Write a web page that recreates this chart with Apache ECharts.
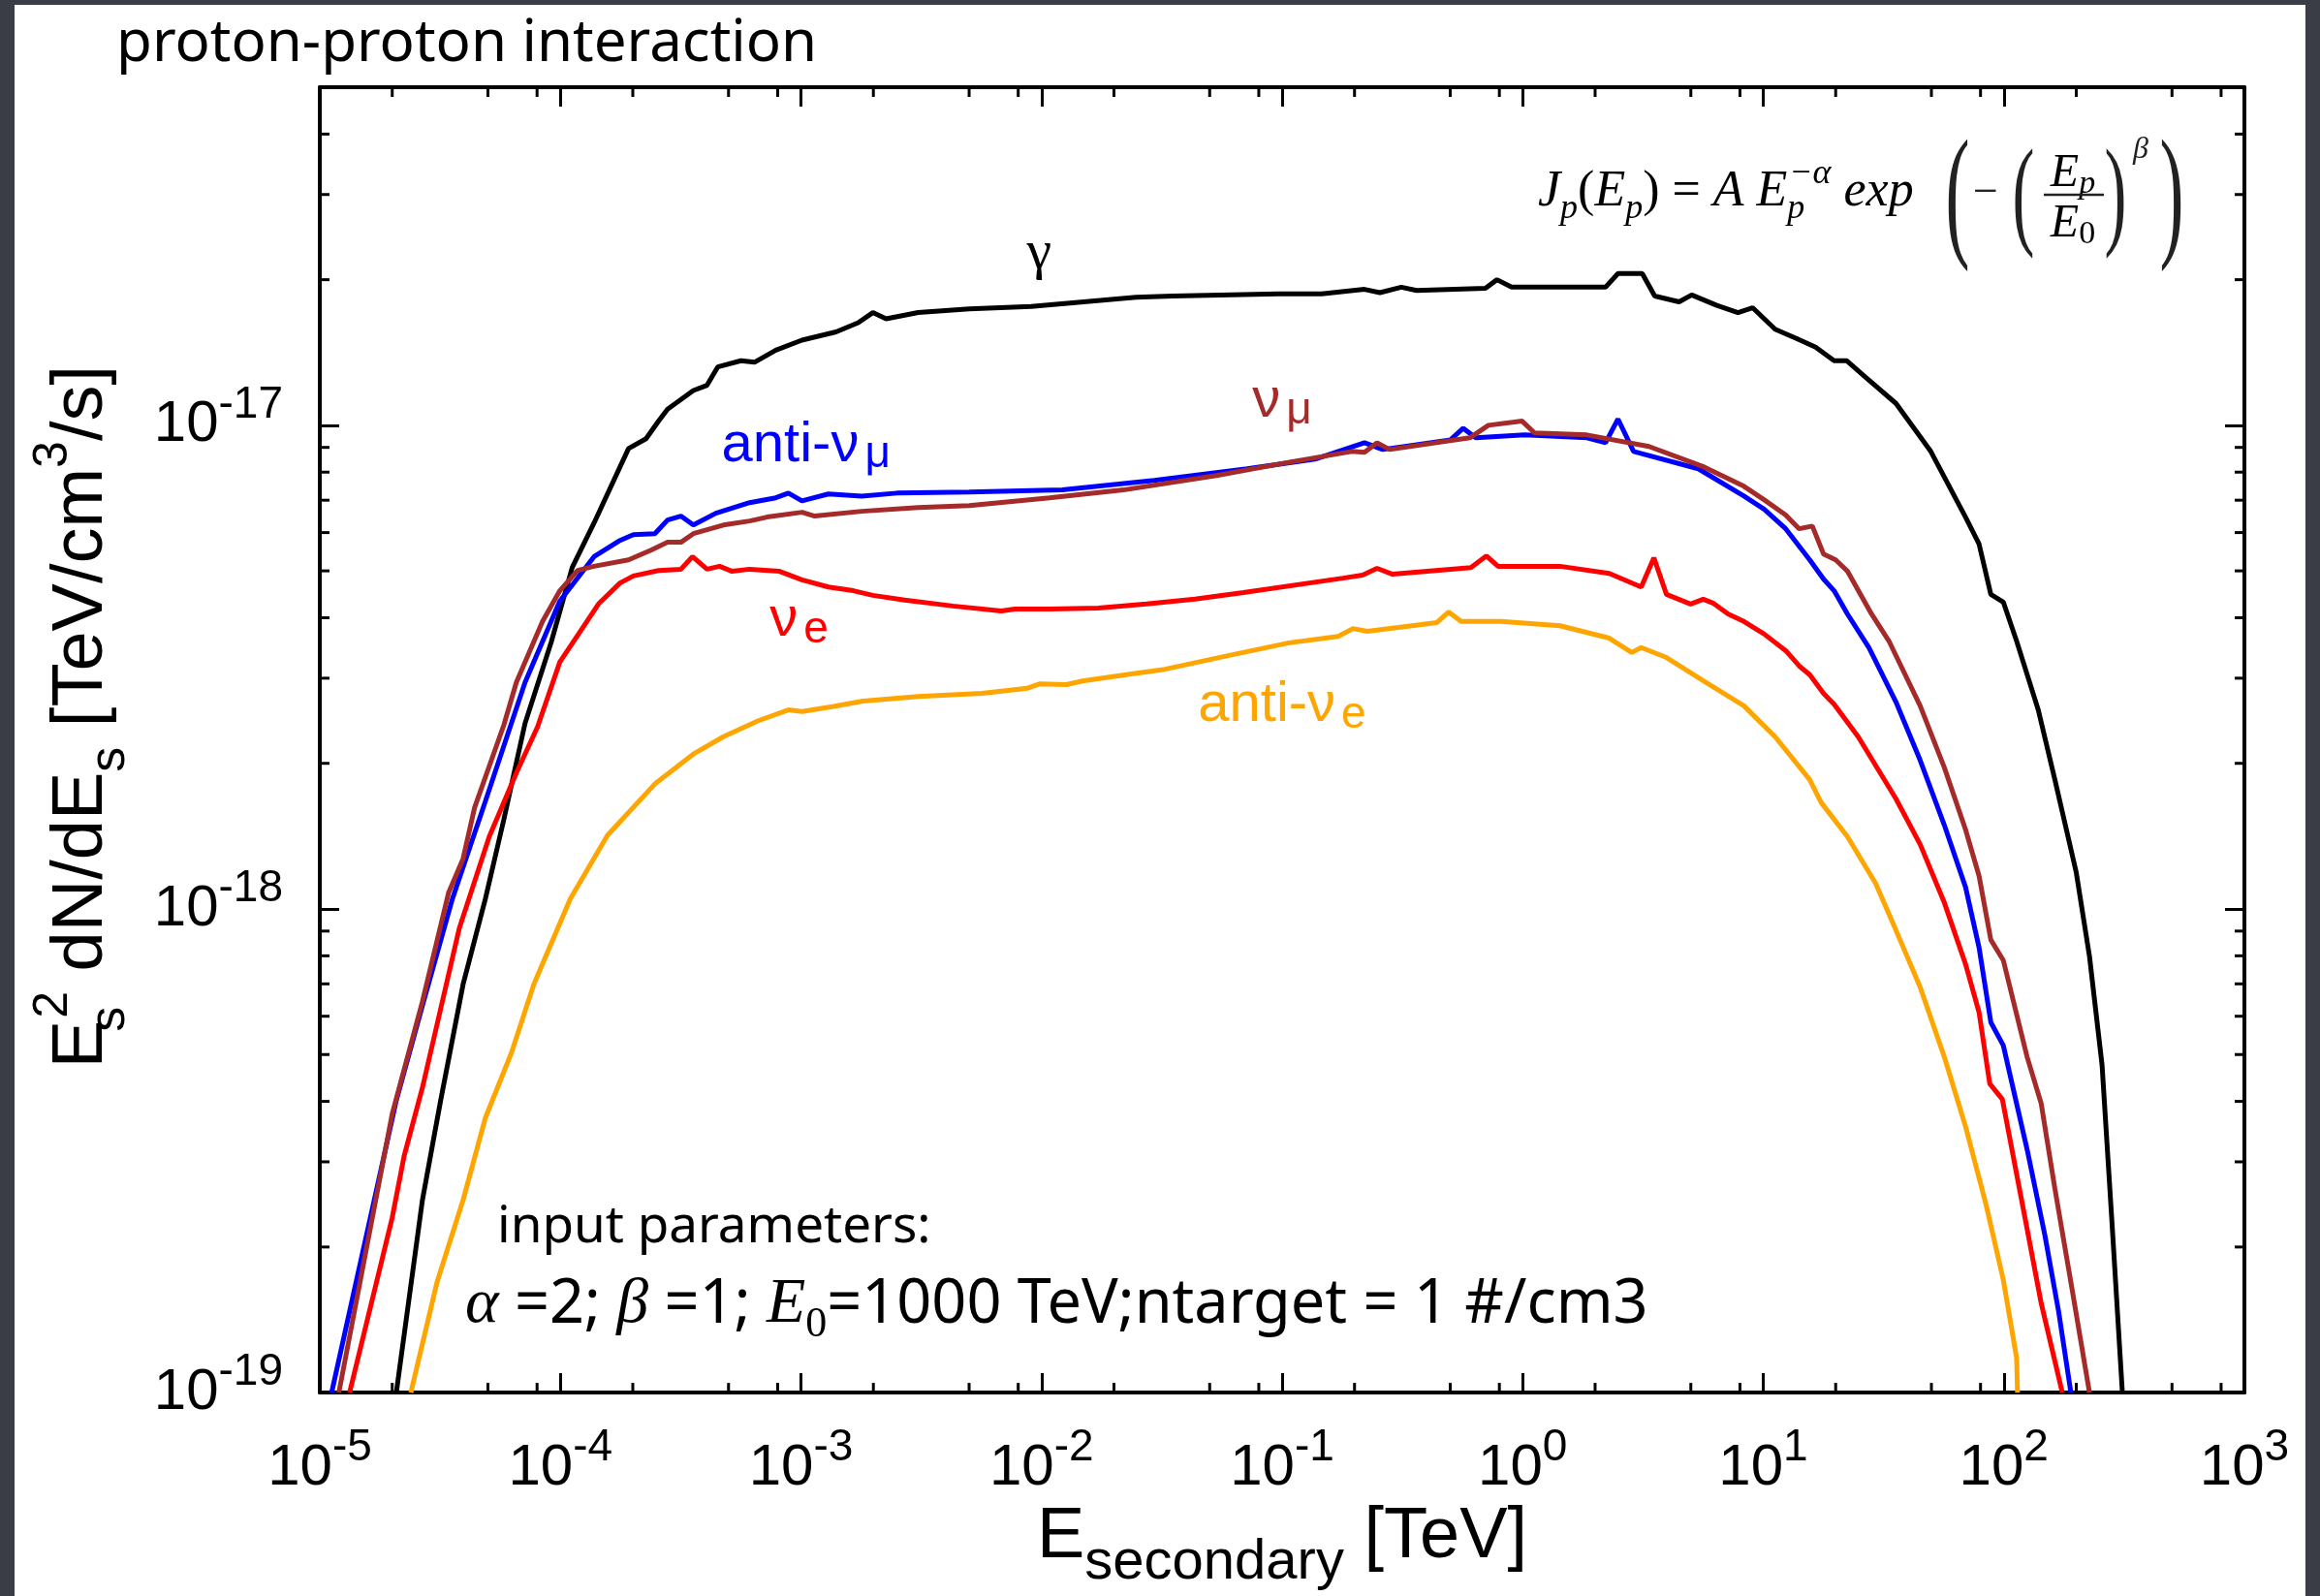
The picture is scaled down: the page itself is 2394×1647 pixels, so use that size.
<!DOCTYPE html>
<html>
<head>
<meta charset="utf-8">
<title>proton-proton interaction</title>
<script src="https://cdn.jsdelivr.net/npm/echarts@6.0.0/dist/echarts.min.js"></script>
<style>
  html, body { margin: 0; padding: 0; background: #3a3d46; }
  body { width: 2394px; height: 1647px; position: relative; overflow: hidden; }
  #chart { position: absolute; left: 15px; top: 5px; width: 2364px; height: 1642px; background: #fff; }
</style>
</head>
<body>
<div id="chart"></div>
<script>
// energies in TeV, E^2 dN/dE in TeV/cm3/s
const gammaE = [2.08e-5, 2.67e-5, 3.18e-5, 3.94e-5, 4.88e-5, 5.82e-5, 7.13e-5, 9.16e-5, 1.12e-4, 1.38e-4,
  1.92e-4, 2.27e-4, 2.56e-4, 2.79e-4, 3.57e-4, 4.07e-4, 4.51e-4, 5.63e-4, 6.41e-4, 7.86e-4,
  1.01e-3, 1.40e-3, 1.73e-3, 1.99e-3, 2.26e-3, 3.07e-3, 5.01e-3, 9.07e-3, 2.47e-2, 3.51e-2,
  9.64e-2, 0.146, 0.220, 0.255, 0.313, 0.362, 0.700, 0.782, 0.899, 2.21,
  2.49, 3.14, 3.54, 4.47, 5.04, 6.41, 7.85, 9.03, 11.2, 13.8,
  16.5, 19.7, 22.2, 26.5, 35.6, 49.7, 60.4, 69.3, 78.9, 88.3,
  99.5, 113, 139, 163, 200, 227, 256, 281, 311];
const gammaV = [1.00e-19, 2.50e-19, 4.02e-19, 6.98e-19, 1.05e-18, 1.53e-18, 2.42e-18, 3.56e-18, 5.08e-18, 6.28e-18,
  8.95e-18, 9.38e-18, 1.02e-17, 1.08e-17, 1.18e-17, 1.21e-17, 1.32e-17, 1.36e-17, 1.35e-17, 1.43e-17,
  1.50e-17, 1.56e-17, 1.63e-17, 1.71e-17, 1.66e-17, 1.71e-17, 1.74e-17, 1.76e-17, 1.84e-17, 1.85e-17,
  1.87e-17, 1.87e-17, 1.91e-17, 1.88e-17, 1.93e-17, 1.90e-17, 1.92e-17, 2.00e-17, 1.93e-17, 1.93e-17,
  2.06e-17, 2.06e-17, 1.85e-17, 1.80e-17, 1.86e-17, 1.77e-17, 1.71e-17, 1.75e-17, 1.58e-17, 1.51e-17,
  1.45e-17, 1.36e-17, 1.36e-17, 1.26e-17, 1.11e-17, 8.83e-18, 7.35e-18, 6.46e-18, 5.68e-18, 4.47e-18,
  4.31e-18, 3.58e-18, 2.58e-18, 1.85e-18, 1.19e-18, 7.98e-19, 4.76e-19, 2.28e-19, 1.00e-19];

const antiNuMuE = [1.12e-5, 2.08e-5, 2.67e-5, 3.56e-5, 4.88e-5, 7.13e-5, 9.95e-5, 1.38e-4, 1.77e-4, 2.01e-4,
  2.47e-4, 2.79e-4, 3.17e-4, 3.57e-4, 4.43e-4, 6.12e-4, 7.86e-4, 8.87e-4, 1.01e-3, 1.30e-3,
  1.79e-3, 2.50e-3, 5.01e-3, 1.22e-2, 2.94e-2, 7.16e-2, 0.137, 0.220, 0.262, 0.501,
  0.566, 0.638, 1.02, 1.85, 2.21, 2.49, 2.89, 5.37, 8.31, 10.1,
  12.4, 15.6, 17.8, 19.7, 22.4, 27.5, 35.6, 44.9, 56.6, 69.3,
  78.9, 88.3, 99.5, 125, 148, 169, 190];
const antiNuMuV = [1.00e-19, 4.02e-19, 6.31e-19, 1.05e-18, 1.67e-18, 2.94e-18, 4.33e-18, 5.35e-18, 5.78e-18, 5.94e-18,
  5.97e-18, 6.37e-18, 6.49e-18, 6.22e-18, 6.58e-18, 6.92e-18, 7.08e-18, 7.24e-18, 6.98e-18, 7.21e-18,
  7.14e-18, 7.24e-18, 7.28e-18, 7.35e-18, 7.69e-18, 8.13e-18, 8.51e-18, 9.20e-18, 8.91e-18, 9.33e-18,
  9.86e-18, 9.42e-18, 9.55e-18, 9.42e-18, 9.20e-18, 1.03e-17, 8.83e-18, 8.13e-18, 7.14e-18, 6.70e-18,
  6.11e-18, 5.27e-18, 4.81e-18, 4.55e-18, 4.07e-18, 3.47e-18, 2.68e-18, 2.03e-18, 1.49e-18, 1.11e-18,
  8.32e-19, 5.83e-19, 5.22e-19, 3.18e-19, 2.12e-19, 1.47e-19, 1.00e-19];

const nuMuE = [1.20e-5, 2.00e-5, 2.67e-5, 3.43e-5, 3.94e-5, 4.40e-5, 5.82e-5, 6.56e-5, 8.43e-5, 9.95e-5,
  1.18e-4, 1.38e-4, 1.92e-4, 2.38e-4, 2.79e-4, 3.17e-4, 3.57e-4, 4.76e-4, 6.12e-4, 7.23e-4,
  1.01e-3, 1.14e-3, 1.79e-3, 3.07e-3, 5.01e-3, 1.08e-2, 2.19e-2, 5.33e-2, 0.109, 0.195,
  0.220, 0.248, 0.280, 0.603, 0.720, 0.995, 1.12, 1.85, 3.35, 5.68,
  8.31, 10.1, 12.4, 14.1, 16.0, 17.8, 20.0, 22.4, 28.2, 33.3,
  44.9, 56.6, 69.3, 78.9, 88.3, 99.5, 125, 143, 163, 192, 227];
const nuMuV = [1.00e-19, 3.77e-19, 6.43e-19, 1.08e-18, 1.27e-18, 1.62e-18, 2.40e-18, 2.94e-18, 3.93e-18, 4.55e-18,
  5.01e-18, 5.11e-18, 5.27e-18, 5.52e-18, 5.73e-18, 5.73e-18, 5.97e-18, 6.22e-18, 6.34e-18, 6.46e-18,
  6.61e-18, 6.49e-18, 6.64e-18, 6.76e-18, 6.82e-18, 7.08e-18, 7.35e-18, 7.87e-18, 8.40e-18, 8.83e-18,
  8.79e-18, 9.20e-18, 8.91e-18, 9.42e-18, 1.00e-17, 1.02e-17, 9.64e-18, 9.55e-18, 9.04e-18, 8.20e-18,
  7.48e-18, 7.01e-18, 6.52e-18, 6.11e-18, 6.19e-18, 5.42e-18, 5.27e-18, 4.99e-18, 4.07e-18, 3.58e-18,
  2.63e-18, 1.96e-18, 1.46e-18, 1.17e-18, 8.63e-19, 7.83e-19, 4.94e-19, 3.96e-19, 2.64e-19, 1.64e-19, 1.00e-19];

const nuEE = [1.33e-5, 2.00e-5, 2.24e-5, 2.67e-5, 3.80e-5, 5.06e-5, 6.56e-5, 8.04e-5, 9.95e-5, 1.18e-4,
  1.44e-4, 1.77e-4, 2.01e-4, 2.56e-4, 3.17e-4, 3.54e-4, 4.07e-4, 4.59e-4, 5.18e-4, 6.12e-4,
  8.15e-4, 1.01e-3, 1.30e-3, 1.65e-3, 1.99e-3, 2.70e-3, 4.28e-3, 6.81e-3, 7.75e-3, 1.08e-2,
  1.72e-2, 2.73e-2, 4.34e-2, 6.90e-2, 0.179, 0.216, 0.248, 0.288, 0.609, 0.706,
  0.790, 1.43, 2.29, 3.11, 3.51, 3.96, 4.99, 5.63, 6.18, 7.16,
  8.31, 10.1, 12.4, 14.1, 15.6, 17.8, 19.7, 24.8, 35.6, 44.9,
  56.6, 69.3, 78.9, 87.4, 98.6, 121, 143, 175];
const nuEV = [1.00e-19, 2.30e-19, 3.08e-19, 4.27e-19, 9.12e-19, 1.41e-18, 1.91e-18, 2.38e-18, 3.24e-18, 3.68e-18,
  4.27e-18, 4.72e-18, 4.88e-18, 5.01e-18, 5.04e-18, 5.35e-18, 5.04e-18, 5.11e-18, 4.99e-18, 5.04e-18,
  4.99e-18, 4.79e-18, 4.63e-18, 4.55e-18, 4.45e-18, 4.35e-18, 4.23e-18, 4.13e-18, 4.17e-18, 4.17e-18,
  4.19e-18, 4.27e-18, 4.37e-18, 4.51e-18, 4.83e-18, 4.90e-18, 5.06e-18, 4.92e-18, 5.08e-18, 5.37e-18,
  5.11e-18, 5.11e-18, 4.94e-18, 4.63e-18, 5.32e-18, 4.47e-18, 4.27e-18, 4.37e-18, 4.29e-18, 4.07e-18,
  3.93e-18, 3.70e-18, 3.42e-18, 3.18e-18, 3.05e-18, 2.79e-18, 2.65e-18, 2.27e-18, 1.69e-18, 1.36e-18,
  1.03e-18, 7.69e-19, 6.11e-19, 4.35e-19, 4.04e-19, 2.37e-19, 1.53e-19, 1.00e-19];

const antiNuEE = [2.39e-5, 3.07e-5, 3.94e-5, 4.88e-5, 6.26e-5, 7.75e-5, 1.10e-4, 1.57e-4, 2.49e-4, 3.57e-4,
  4.76e-4, 6.65e-4, 8.87e-4, 1.01e-3, 1.35e-3, 1.81e-3, 3.07e-3, 5.66e-3, 8.74e-3, 9.86e-3,
  1.27e-2, 1.48e-2, 2.36e-2, 3.26e-2, 5.95e-2, 0.107, 0.171, 0.197, 0.226, 0.440,
  0.492, 0.555, 0.812, 1.43, 2.29, 2.84, 3.11, 3.96, 5.90, 8.31,
  11.2, 15.6, 17.4, 22.4, 29.3, 35.6, 44.9, 56.6, 69.3, 84.3,
  99.5, 113, 114];
const antiNuEV = [1.00e-19, 1.69e-19, 2.50e-19, 3.70e-19, 5.04e-19, 6.98e-19, 1.05e-18, 1.42e-18, 1.82e-18, 2.09e-18,
  2.27e-18, 2.45e-18, 2.58e-18, 2.56e-18, 2.62e-18, 2.69e-18, 2.75e-18, 2.79e-18, 2.86e-18, 2.92e-18,
  2.91e-18, 2.96e-18, 3.06e-18, 3.13e-18, 3.34e-18, 3.55e-18, 3.66e-18, 3.80e-18, 3.75e-18, 3.91e-18,
  4.11e-18, 3.93e-18, 3.93e-18, 3.85e-18, 3.63e-18, 3.39e-18, 3.47e-18, 3.31e-18, 2.92e-18, 2.63e-18,
  2.27e-18, 1.85e-18, 1.66e-18, 1.41e-18, 1.13e-18, 9.04e-19, 6.89e-19, 4.94e-19, 3.55e-19, 2.45e-19,
  1.71e-19, 1.18e-19, 1.00e-19];

// where the curve names sit, in data units [E, value]
const gammaLabelAt = [9.77e-3, 2.26e-17];
const antiNuMuLabelAt = [1.05e-3, 9.08e-18];
const nuMuLabelAt = [0.1, 1.12e-17];
const nuELabelAt = [9.82e-4, 3.95e-18];
const antiNuELabelAt = [0.1, 2.63e-18];

const xMin = 1e-5, xMax = 1e3;
const yMin = 1e-19, yMax = 5e-17;

const SANS = '"Liberation Sans", Arial, sans-serif';
const NOTE = '"Noto Sans", sans-serif';
const SERIF = '"Liberation Serif", "Times New Roman", serif';

// minor ticks: 2..9 on y, 2/5/8 on x (as in the original)
const yMinor = [];
for (let e = -19; e <= -17; e++) {
  for (let m = 2; m <= 9; m++) {
    const v = m * Math.pow(10, e);
    if (v < yMax) yMinor.push([1e-3, v]);
  }
}
const xMinor = [];
for (let e = -5; e <= 2; e++) {
  [2, 5, 8].forEach(m => xMinor.push([m * Math.pow(10, e), 1e-18]));
}

function zip(xs, ys) {
  return xs.map((x, i) => [x, ys[i]]);
}

function powLabel(v) {
  const e = Math.log10(v);
  const r = Math.round(e);
  if (Math.abs(e - r) > 1e-6) return '';
  return '{b|10}{s|' + r + '}';
}

const tickRich = {
  b: { fontFamily: SANS, fontSize: 60, lineHeight: 88, color: '#000' },
  s: { fontFamily: SANS, fontSize: 46, lineHeight: 46, verticalAlign: 'top', color: '#000' }
};

function labelRich(color) {
  return {
    m: { fontFamily: SANS, fontSize: 58, lineHeight: 66, color: color },
    s: { fontFamily: SANS, fontSize: 46, lineHeight: 12, verticalAlign: 'bottom', padding: [0, 0, 0, 6], color: color },
    g: { fontFamily: SERIF, fontSize: 58, lineHeight: 66, color: color }
  };
}

function curve(name, color, data, labelAt, text) {
  return {
    name: name,
    type: 'line',
    data: data,
    symbol: 'none',
    showSymbol: false,
    clip: true,
    lineStyle: { color: color, width: 5 },
    itemStyle: { color: color },
    z: 3,
    markPoint: {
      silent: true,
      symbol: 'circle',
      symbolSize: 1,
      itemStyle: { color: 'rgba(0,0,0,0)' },
      label: { show: true, position: 'inside', formatter: text, rich: labelRich(color) },
      data: [{ coord: labelAt }]
    }
  };
}

function axisCommon(pos) {
  return {
    type: 'log',
    logBase: 10,
    position: pos,
    axisLine: { show: true, onZero: false, lineStyle: { color: '#000', width: 4 } },
    axisTick: { show: true, inside: true, length: 20, lineStyle: { color: '#000', width: 3 } },
    splitLine: { show: false },
    minorTick: { show: false },
    minorSplitLine: { show: false }
  };
}

const chart = echarts.init(document.getElementById('chart'), null, { renderer: 'canvas' });

const formulaColor = '#222';
const fRich = {
  i: { fontFamily: SERIF, fontStyle: 'italic', fontSize: 52, lineHeight: 72, color: formulaColor },
  r: { fontFamily: SERIF, fontSize: 52, lineHeight: 72, color: formulaColor },
  sb: { fontFamily: SERIF, fontStyle: 'italic', fontSize: 36, lineHeight: 50, verticalAlign: 'bottom', color: formulaColor },
  sbw: { fontFamily: SERIF, fontStyle: 'italic', fontSize: 36, lineHeight: 50, width: 2, verticalAlign: 'bottom', color: formulaColor },
  sp: { fontFamily: SERIF, fontStyle: 'italic', fontSize: 36, lineHeight: 30, verticalAlign: 'top', color: formulaColor }
};
const fracRich = {
  i: { fontFamily: SERIF, fontStyle: 'italic', fontSize: 48, lineHeight: 56, color: formulaColor },
  sb: { fontFamily: SERIF, fontStyle: 'italic', fontSize: 34, lineHeight: 36, verticalAlign: 'bottom', color: formulaColor },
  s0: { fontFamily: SERIF, fontSize: 34, lineHeight: 36, verticalAlign: 'bottom', color: formulaColor }
};

const option = {
  backgroundColor: '#fff',
  animation: false,
  textStyle: { fontFamily: SANS, color: '#000' },
  grid: { left: 315, top: 85, right: 63, bottom: 207, containLabel: false },
  xAxis: [
    Object.assign(axisCommon('bottom'), {
      min: xMin, max: xMax,
      axisLabel: { show: true, margin: 34, formatter: powLabel, rich: tickRich, showMinLabel: true, showMaxLabel: true },
      name: '{m|E}{sub|secondary}{m| [TeV]}',
      nameLocation: 'middle',
      nameGap: 63,
      nameTextStyle: {
        rich: {
          m: { fontFamily: SANS, fontSize: 74, lineHeight: 110, color: '#000' },
          sub: { fontFamily: SANS, fontSize: 58, lineHeight: 23, verticalAlign: 'bottom', color: '#000' }
        }
      }
    }),
    Object.assign(axisCommon('top'), { min: xMin, max: xMax, axisLabel: { show: false } })
  ],
  yAxis: [
    Object.assign(axisCommon('left'), {
      min: yMin, max: yMax,
      axisLabel: { show: true, margin: 38, formatter: powLabel, rich: tickRich, showMinLabel: true, showMaxLabel: false },
      name: '{m|E}{sw|s}{sup|2}{m| dN/dE}{sub|s}{m| [TeV/cm}{sup|3}{m|/s]}',
      nameLocation: 'middle',
      nameRotate: 90,
      nameGap: 190,
      nameTextStyle: {
        padding: [0, 0, 0, 48],
        rich: {
          m: { fontFamily: SANS, fontSize: 74, lineHeight: 110, color: '#000' },
          sub: { fontFamily: SANS, fontSize: 52, lineHeight: 64, verticalAlign: 'bottom', color: '#000' },
          sw: { fontFamily: SANS, fontSize: 52, lineHeight: 64, width: 2, verticalAlign: 'bottom', color: '#000' },
          sup: { fontFamily: SANS, fontSize: 50, lineHeight: 46, verticalAlign: 'top', color: '#000' }
        }
      }
    }),
    Object.assign(axisCommon('right'), { min: yMin, max: yMax, axisLabel: { show: false } })
  ],
  series: [
    curve('gamma', '#000000', zip(gammaE, gammaV), gammaLabelAt, '{g|γ}'),
    curve('anti-nu_mu', '#0000ff', zip(antiNuMuE, antiNuMuV), antiNuMuLabelAt, '{m|anti-ν}{s|μ}'),
    curve('nu_mu', '#a52a2a', zip(nuMuE, nuMuV), nuMuLabelAt, '{m|ν}{s|μ}'),
    curve('nu_e', '#ff0000', zip(nuEE, nuEV), nuELabelAt, '{m|ν}{s|e}'),
    curve('anti-nu_e', '#ffa500', zip(antiNuEE, antiNuEV), antiNuELabelAt, '{m|anti-ν}{s|e}'),
    {
      type: 'custom',
      silent: true,
      data: yMinor,
      z: 4,
      renderItem: function (params, api) {
        const cs = params.coordSys;
        const y = api.coord([api.value(0), api.value(1)])[1];
        const st = { stroke: '#000', lineWidth: 3 };
        return {
          type: 'group',
          children: [
            { type: 'line', shape: { x1: cs.x, y1: y, x2: cs.x + 10, y2: y }, style: st },
            { type: 'line', shape: { x1: cs.x + cs.width - 10, y1: y, x2: cs.x + cs.width, y2: y }, style: st }
          ]
        };
      }
    },
    {
      type: 'custom',
      silent: true,
      data: xMinor,
      z: 4,
      renderItem: function (params, api) {
        const cs = params.coordSys;
        const x = api.coord([api.value(0), api.value(1)])[0];
        const st = { stroke: '#000', lineWidth: 3 };
        return {
          type: 'group',
          children: [
            { type: 'line', shape: { x1: x, y1: cs.y + cs.height, x2: x, y2: cs.y + cs.height - 10 }, style: st },
            { type: 'line', shape: { x1: x, y1: cs.y, x2: x, y2: cs.y + 10 }, style: st }
          ]
        };
      }
    }
  ],
  graphic: [
    {
      type: 'text', x: 105, y: 41,
      style: { text: 'proton-proton interaction', font: '60px ' + NOTE, fill: '#000', align: 'left', verticalAlign: 'middle' }
    },
    {
      type: 'text', x: 498, y: 1262,
      style: { text: 'input parameters:', font: '53px ' + NOTE, fill: '#000', align: 'left', verticalAlign: 'middle' }
    },
    {
      type: 'text', x: 465, y: 1342,
      style: {
        text: '{g|α}{t| =2; }{g|β}{t| =1; }{g|E}{gs|0}{t|=1000 TeV;ntarget = 1 #/cm3}',
        align: 'left', verticalAlign: 'middle',
        rich: {
          t: { fontFamily: NOTE, fontSize: 63, lineHeight: 84, color: '#000' },
          g: { fontFamily: SERIF, fontStyle: 'italic', fontSize: 66, lineHeight: 84, color: '#333' },
          gs: { fontFamily: SERIF, fontSize: 44, lineHeight: 60, verticalAlign: 'bottom', color: '#333' }
        }
      }
    },
    // proton spectrum formula
    {
      type: 'text', x: 1572, y: 193,
      style: {
        text: '{i|J}{sb|p}{r|(}{i|E}{sb|p}{r|) = }{i|A}{r| }{i|E}{sbw|p}{sp|−α}{r| }{i|exp}',
        align: 'left', verticalAlign: 'middle', rich: fRich
      }
    },
    { type: 'text', x: 2005, y: 204, scaleX: 0.5, style: { text: '(', font: '150px ' + SERIF, fill: formulaColor, align: 'center', verticalAlign: 'middle' } },
    { type: 'text', x: 2034, y: 195, style: { text: '−', font: '46px ' + SERIF, fill: formulaColor, align: 'center', verticalAlign: 'middle' } },
    { type: 'text', x: 2073, y: 202, scaleX: 0.55, style: { text: '(', font: '125px ' + SERIF, fill: formulaColor, align: 'center', verticalAlign: 'middle' } },
    { type: 'text', x: 2124, y: 174, style: { text: '{i|E}{sb|p}', align: 'center', verticalAlign: 'middle', rich: fracRich } },
    { type: 'line', shape: { x1: 2094, y1: 196, x2: 2156, y2: 196 }, style: { stroke: formulaColor, lineWidth: 2.5 } },
    { type: 'text', x: 2124, y: 226, style: { text: '{i|E}{s0|0}', align: 'center', verticalAlign: 'middle', rich: fracRich } },
    { type: 'text', x: 2168, y: 202, scaleX: 0.55, style: { text: ')', font: '125px ' + SERIF, fill: formulaColor, align: 'center', verticalAlign: 'middle' } },
    { type: 'text', x: 2194, y: 150, style: { text: 'β', font: 'italic 32px ' + SERIF, fill: formulaColor, align: 'center', verticalAlign: 'middle' } },
    { type: 'text', x: 2226, y: 204, scaleX: 0.5, style: { text: ')', font: '150px ' + SERIF, fill: formulaColor, align: 'center', verticalAlign: 'middle' } }
  ]
};

chart.setOption(option);
</script>
</body>
</html>
